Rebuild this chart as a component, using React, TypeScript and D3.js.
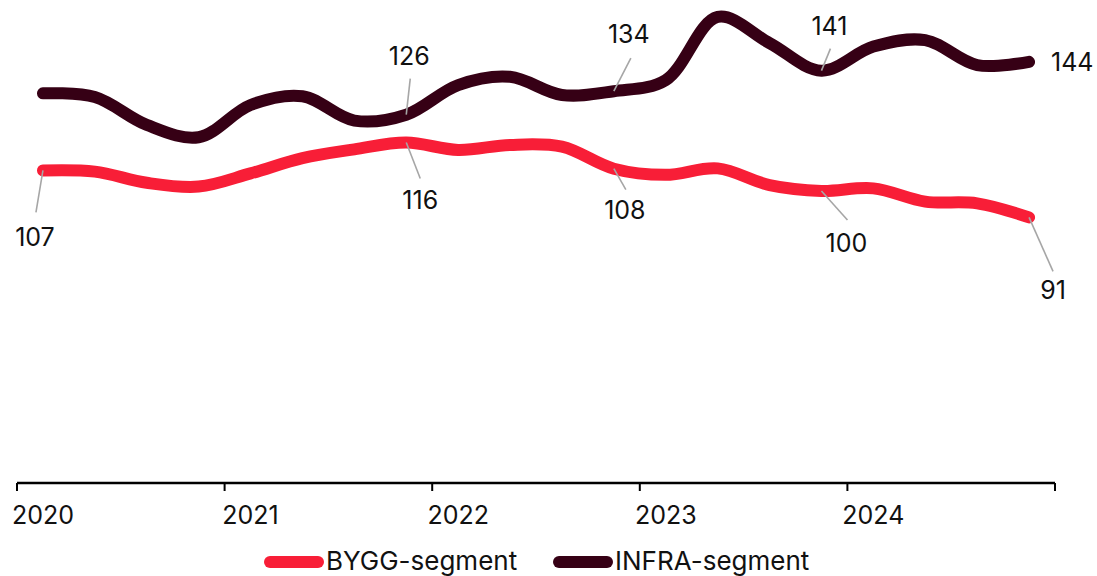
import React from "react";
import * as d3 from "d3";

const years = ["2020", "2021", "2022", "2023", "2024"];
const quarters = years.flatMap((y) => ["K1", "K2", "K3", "K4"].map((q) => `${y} ${q}`));

const byggValues = [107, 106.6, 102.8, 101.5, 106.0, 111.2, 114.2, 116.5, 114.0, 115.7, 115.1, 107.6, 105.5, 107.7, 102.0, 100, 100.9, 96.4, 95.8, 91];
const infraValues = [133.3, 132.0, 122.5, 118.3, 129.3, 132.3, 124.0, 126, 136.1, 138.9, 132.7, 134, 137.8, 159.3, 150.4, 141, 149.2, 151.4, 142.9, 144];

const seriesNames = ["BYGG-segment", "INFRA-segment"];
const seriesColors = ["#F81E37", "#360015"];

// annotation: series index, point index, label text
const annotations = [
  { s: 0, i: 0, text: "107" },
  { s: 0, i: 7, text: "116" },
  { s: 0, i: 11, text: "108" },
  { s: 0, i: 15, text: "100" },
  { s: 0, i: 19, text: "91" },
  { s: 1, i: 7, text: "126" },
  { s: 1, i: 11, text: "134" },
  { s: 1, i: 15, text: "141" },
  { s: 1, i: 19, text: "144" },
];
// leader offsets (lx, ly) and text offsets (tx, ty) relative to the point
const annotationLayout = [
  { lx: -7, ly: 42, tx: -8, ty: 76, leader: true, anchor: "middle" },
  { lx: 14, ly: 36, tx: 14, ty: 66, leader: true, anchor: "middle" },
  { lx: 12, ly: 21, tx: 11, ty: 50, leader: true, anchor: "middle" },
  { lx: 26, ly: 29, tx: 25, ty: 61, leader: true, anchor: "middle" },
  { lx: 24, ly: 54, tx: 24, ty: 82, leader: true, anchor: "middle" },
  { lx: 4, ly: -36, tx: 3, ty: -50, leader: true, anchor: "middle" },
  { lx: 17, ly: -33, tx: 15, ty: -48, leader: true, anchor: "middle" },
  { lx: 9, ly: -22, tx: 8, ty: -36, leader: true, anchor: "middle" },
  { lx: 0, ly: 0, tx: 22, ty: 9, leader: false, anchor: "start" },
];

const W = 1097;
const H = 576;
const FONT = "Inter, 'Noto Sans', sans-serif";

export default function App() {
  const x = d3.scaleBand<string>().domain(quarters).range([17, 1055]).padding(0);
  const bw = x.bandwidth();
  const cx = (q: string) => (x(q) as number) + bw / 2;
  const y = d3.scaleLinear().domain([0, 160]).range([484.5, 14.9]);
  const axisY = 483;

  const all = [byggValues, infraValues];
  const line = d3
    .line<number>()
    .x((_, i) => cx(quarters[i]))
    .y((v) => y(v))
    .curve(d3.curveCatmullRom.alpha(0.5));

  const tickXs = [...years.map((yr) => x(`${yr} K1`) as number), x.range()[1]];

  return (
    <svg
      width={W}
      height={H}
      style={{ position: "absolute", left: 0, top: 0, fontFamily: FONT }}
    >
      <rect width={W} height={H} fill="#fff" />
      {/* axis */}
      <line x1={x.range()[0]} x2={x.range()[1]} y1={axisY} y2={axisY} stroke="#000" strokeWidth={2.5} />
      {tickXs.map((tx, k) => (
        <line key={k} x1={tx} x2={tx} y1={axisY} y2={axisY + 8} stroke="#000" strokeWidth={2} />
      ))}
      {years.map((yr) => (
        <text key={yr} x={cx(`${yr} K1`)} y={524} textAnchor="middle" fontSize={25} fill="#111">
          {yr}
        </text>
      ))}
      {/* lines */}
      {all.map((vals, s) => (
        <path
          key={s}
          d={line(vals) || ""}
          fill="none"
          stroke={seriesColors[s]}
          strokeWidth={12}
          strokeLinecap="round"
          strokeLinejoin="round"
        />
      ))}
      {/* annotations */}
      {annotations.map((a, k) => {
        const L = annotationLayout[k];
        const px = cx(quarters[a.i]);
        const py = y(all[a.s][a.i]);
        return (
          <g key={k}>
            {L.leader && (
              <line x1={px} y1={py} x2={px + L.lx} y2={py + L.ly} stroke="#a6a6a6" strokeWidth={1.6} />
            )}
            <text x={px + L.tx} y={py + L.ty} textAnchor={L.anchor as any} fontSize={25} fill="#111">
              {a.text}
            </text>
          </g>
        );
      })}
      {/* legend */}
      {[
        { sx: 270, tx: 326 },
        { sx: 559, tx: 615 },
      ].map((lg, s) => (
        <g key={s}>
          <line x1={lg.sx} x2={lg.sx + 48} y1={562} y2={562} stroke={seriesColors[s]} strokeWidth={12} strokeLinecap="round" />
          <text x={lg.tx} y={569.5} fontSize={26} fill="#111">
            {seriesNames[s]}
          </text>
        </g>
      ))}
    </svg>
  );
}
